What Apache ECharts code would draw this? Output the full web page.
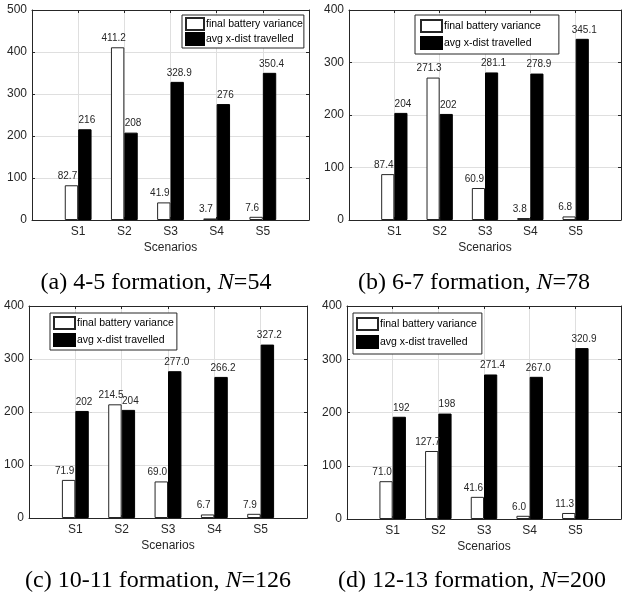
<!DOCTYPE html>
<html><head><meta charset="utf-8">
<script src="https://cdn.jsdelivr.net/npm/echarts@6/dist/echarts.min.js"></script>
<style>html,body{margin:0;padding:0;background:#fff}#c{width:624px;height:599px}</style>
</head><body><div id="c"></div>
<script>
// ---- data ----
const categories = ['S1', 'S2', 'S3', 'S4', 'S5'];
const seriesNames = ['final battery variance', 'avg x-dist travelled'];
const aBattery = ['82.7', '411.2', '41.9', '3.7', '7.6'];
const aDist    = ['216', '208', '328.9', '276', '350.4'];
const bBattery = ['87.4', '271.3', '60.9', '3.8', '6.8'];
const bDist    = ['204', '202', '281.1', '278.9', '345.1'];
const cBattery = ['71.9', '214.5', '69.0', '6.7', '7.9'];
const cDist    = ['202', '204', '277.0', '266.2', '327.2'];
const dBattery = ['71.0', '127.7', '41.6', '6.0', '11.3'];
const dDist    = ['192', '198', '271.4', '267.0', '320.9'];
const yMax = [500, 400, 400, 400];
const yStep = 100;
const xAxisName = 'Scenarios';
const captions = [
  '(a) 4-5 formation, {i|N}=54',
  '(b) 6-7 formation, {i|N}=78',
  '(c) 10-11 formation, {i|N}=126',
  '(d) 12-13 formation, {i|N}=200'
];

// ---- layout ----
const panels = [
  { data: [aBattery, aDist], grid: { left: 32, top: 10, width: 277, height: 210 },
    legend: { left: 182, top: 15, padding: [2, 1, 2, 3], itemWidth: 18, itemGap: 1 }, cap: [156, 283] },
  { data: [bBattery, bDist], grid: { left: 349, top: 10, width: 274, height: 210 },
    legend: { left: 415, top: 15, padding: [4, 18, 4, 5], itemWidth: 21, itemGap: 3 }, cap: [474, 283] },
  { data: [cBattery, cDist], grid: { left: 29, top: 306, width: 278, height: 212 },
    legend: { left: 50, top: 313, padding: [3, 3, 3, 3], itemWidth: 21, itemGap: 3 }, cap: [158, 581] },
  { data: [dBattery, dDist], grid: { left: 347, top: 306, width: 276, height: 213 },
    legend: { left: 353, top: 313, padding: [4, 5, 5, 3], itemWidth: 21, itemGap: 4 }, cap: [472, 581] }
];

const FONT = 'Liberation Sans';
const AX = '#262626';
const GRIDC = '#dfdfdf';

const grid = [], xAxis = [], yAxis = [], series = [], legend = [], graphic = [];
panels.forEach((p, i) => {
  grid.push(Object.assign({ containLabel: false }, p.grid));
  const line = { show: true, onZero: false, lineStyle: { color: AX, width: 1 } };
  const tick = { show: true, inside: true, length: 3, lineStyle: { color: AX } };
  xAxis.push({
    type: 'value', gridIndex: i, min: 0, max: 6, interval: 1, position: 'bottom',
    axisLine: line, axisTick: tick,
    axisLabel: { fontSize: 12, fontFamily: FONT, color: AX, margin: 6,
      formatter: v => categories[v - 1] || '' },
    splitLine: { show: true, lineStyle: { color: GRIDC, width: 1 } },
    name: xAxisName, nameLocation: 'middle', nameGap: 22,
    nameTextStyle: { fontSize: 12, fontFamily: FONT, color: AX }
  });
  xAxis.push({
    type: 'value', gridIndex: i, min: 0, max: 6, interval: 1, position: 'top',
    axisLine: line, axisTick: tick,
    axisLabel: { show: false }, splitLine: { show: false }
  });
  yAxis.push({
    type: 'value', gridIndex: i, min: 0, max: yMax[i], interval: yStep, position: 'left',
    axisLine: line, axisTick: tick,
    axisLabel: { fontSize: 12, fontFamily: FONT, color: AX, margin: 5 },
    splitLine: { show: true, lineStyle: { color: GRIDC, width: 1 } }
  });
  yAxis.push({
    type: 'value', gridIndex: i, min: 0, max: yMax[i], interval: yStep, position: 'right',
    axisLine: line, axisTick: tick,
    axisLabel: { show: false }, splitLine: { show: false }
  });
  const styles = [
    { color: '#ffffff', borderColor: AX, borderWidth: 1 },
    { color: '#000000', borderColor: '#000000', borderWidth: 1 }
  ];
  const offsets = [[-4, 0], [2, 0]];
  p.data.forEach((arr, s) => {
    series.push({
      type: 'bar', name: seriesNames[s], xAxisIndex: 2 * i, yAxisIndex: 2 * i,
      z: s === 0 ? 3 : 2,
      data: arr.map((v, k) => [k + 1, v]),
      barWidth: '29%', barGap: '0%',
      itemStyle: styles[s],
      label: { show: true, position: 'top', distance: 4, offset: offsets[s],
        fontSize: 10, fontFamily: FONT, color: AX, formatter: q => q.data[1] },
      emphasis: { disabled: true }, animation: false
    });
  });
  legend.push(Object.assign({
    orient: 'vertical', data: seriesNames, selectedMode: false, itemHeight: 12,
    icon: 'rect', backgroundColor: '#fff', borderColor: AX, borderWidth: 1, borderRadius: 0,
    textStyle: { fontSize: 10.5, fontFamily: FONT, color: '#000', padding: [0, 0, 0, -3] }
  }, p.legend));
  graphic.push({
    type: 'text', x: p.cap[0], y: p.cap[1],
    style: { text: captions[i], fontFamily: 'Liberation Serif', fontSize: 24, fill: '#000',
      align: 'center', verticalAlign: 'middle',
      rich: { i: { fontFamily: 'Liberation Serif', fontSize: 24, fontStyle: 'italic', fill: '#000' } } }
  });
});

const chart = echarts.init(document.getElementById('c'), null, { renderer: 'canvas' });
chart.setOption({ animation: false, backgroundColor: '#fff', grid, xAxis, yAxis, series, legend, graphic });
</script></body></html>
